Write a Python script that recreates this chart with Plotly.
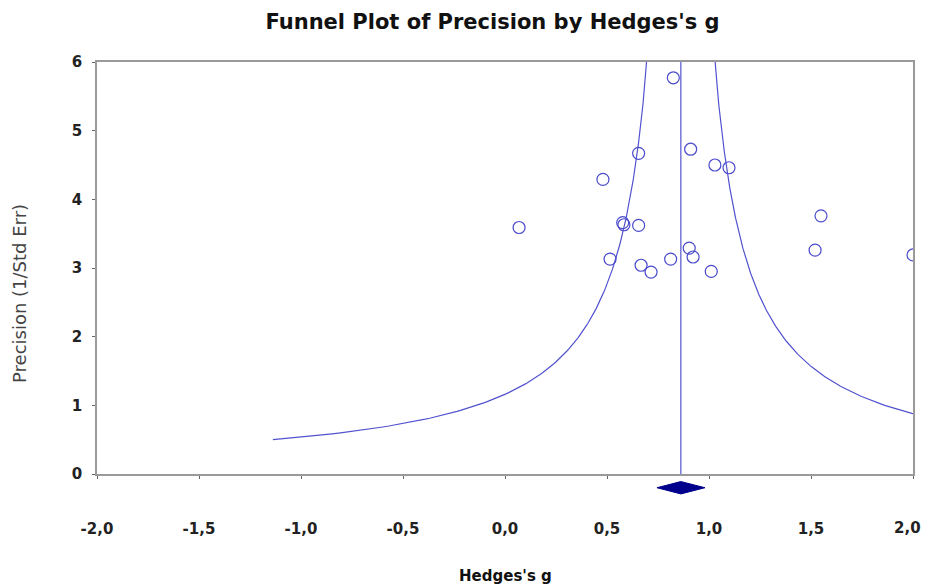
import numpy as np
import plotly.graph_objects as go

# ---- data ----
hedges_g = [0.825, 0.910, 0.655, 1.029, 1.098, 0.480, 0.069, 0.577, 0.583, 0.655,
            0.903, 0.922, 0.812, 0.515, 0.667, 0.716, 1.011, 1.549, 1.520, 2.000]
precision = [5.77, 4.73, 4.67, 4.50, 4.46, 4.29, 3.59, 3.66, 3.63, 3.62,
             3.29, 3.16, 3.13, 3.13, 3.04, 2.94, 2.95, 3.76, 3.26, 3.19]

mean_g = 0.862          # combined effect
ci_low, ci_high = 0.745, 0.980
funnel_k = 1.0          # half-width of funnel = funnel_k / precision
funnel_p_min = 0.5

x_ticks = [-2.0, -1.5, -1.0, -0.5, 0.0, 0.5, 1.0, 1.5, 2.0]
x_tick_labels = ["-2,0", "-1,5", "-1,0", "-0,5", "0,0", "0,5", "1,0", "1,5", "2,0"]
y_ticks = [0, 1, 2, 3, 4, 5, 6]
X_RANGE = [-2.0, 2.0]
Y_RANGE = [0, 6]

BLUE = "#5252cf"
AXIS = "#9a9a9a"

W, H = 921, 579   # page body has an 8px default margin

fig = go.Figure()

# funnel limits
p_curve = np.linspace(funnel_p_min, 9, 600)
fig.add_trace(go.Scatter(x=mean_g - funnel_k / p_curve, y=p_curve, mode="lines",
                         line=dict(color=BLUE, width=1.2), hoverinfo="skip", showlegend=False))
fig.add_trace(go.Scatter(x=mean_g + funnel_k / p_curve, y=p_curve, mode="lines",
                         line=dict(color=BLUE, width=1.2), hoverinfo="skip", showlegend=False))
# mean line
fig.add_trace(go.Scatter(x=[mean_g, mean_g], y=Y_RANGE, mode="lines",
                         line=dict(color=BLUE, width=1.2), hoverinfo="skip", showlegend=False))
# studies
fig.add_trace(go.Scatter(x=hedges_g, y=precision, mode="markers",
                         marker=dict(symbol="circle-open", size=12, color="#4a4acc",
                                     line=dict(width=1.2, color="#4a4acc")),
                         showlegend=False))

# summary diamond below the axis (y in paper units)
span = Y_RANGE[1] - Y_RANGE[0]
d_c, d_h = -0.2 / span, 0.09 / span
fig.add_shape(type="path", xref="x", yref="paper",
              path=f"M {ci_low},{d_c} L {mean_g},{d_c + d_h} L {ci_high},{d_c} L {mean_g},{d_c - d_h} Z",
              fillcolor="#00008c", line=dict(color="#00008c", width=1), layer="above")

tick_font = dict(family="DejaVu Sans", size=15, color="#222222", weight="bold")

# right-most label drawn as an annotation, nudged so it stays inside the window
tick_text = x_tick_labels[:-1] + [""]
last_x_paper = (x_ticks[-1] - X_RANGE[0]) / (X_RANGE[1] - X_RANGE[0])

fig.update_layout(
    width=W, height=H,
    margin=dict(l=89, r=16, t=54, b=113),
    paper_bgcolor="white", plot_bgcolor="white",
    title=dict(text="<b>Funnel Plot of Precision by Hedges's g</b>",
               x=484.5 / W, xanchor="center", y=1 - 14 / H, yanchor="middle",
               font=dict(family="DejaVu Sans", size=21, color="#111111")),
    xaxis=dict(range=X_RANGE, tickvals=x_ticks, ticktext=tick_text, automargin=False,
               showgrid=False, zeroline=False, showline=True, linecolor=AXIS, linewidth=1.5,
               mirror=True, ticks="outside", ticklen=3, tickcolor="#666666",
               tickfont=tick_font, ticklabelstandoff=37, ticklabeloverflow="allow"),
    yaxis=dict(range=Y_RANGE, tickvals=y_ticks, automargin=False,
               showgrid=False, zeroline=False, showline=True, linecolor=AXIS, linewidth=1.5,
               mirror=True, ticks="outside", ticklen=3, tickcolor="#666666",
               tickfont=tick_font, ticklabelstandoff=7),
    annotations=[
        dict(text=x_tick_labels[-1], xref="paper", yref="paper", x=last_x_paper, y=0,
             xshift=-6, yshift=-54, xanchor="center", yanchor="middle", showarrow=False,
             font=tick_font),
        dict(text="<b>Hedges's g</b>", xref="paper", yref="paper", x=0.5, y=0,
             yshift=-102, xanchor="center", yanchor="middle", showarrow=False,
             font=dict(family="DejaVu Sans", size=15, color="#111111")),
        dict(text="Precision (1/Std Err)", xref="paper", yref="paper", x=0, y=0.437,
             xshift=-77, xanchor="center", yanchor="middle", textangle=-90, showarrow=False,
             font=dict(family="DejaVu Sans", size=18, color="#444444")),
    ],
)

fig.write_html("out.html")
